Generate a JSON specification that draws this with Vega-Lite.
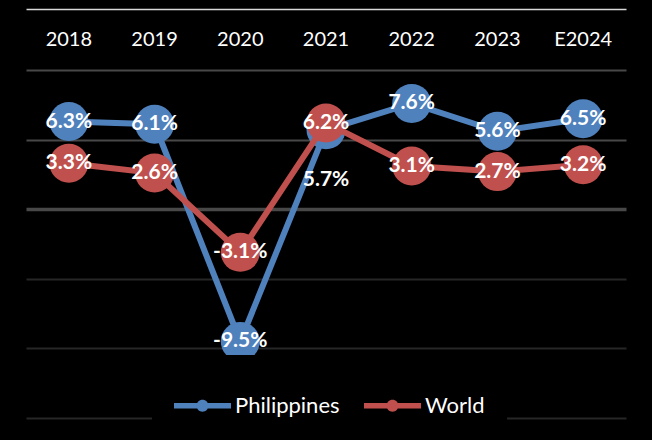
{
  "$schema": "https://vega.github.io/schema/vega-lite/v6.json",
  "width": 600,
  "height": 348,
  "autosize": {"type": "none"},
  "padding": {"left": 26, "top": 70, "right": 26, "bottom": 22},
  "background": "#000000",
  "config": {"view": {"stroke": null}, "font": "Lato"},
  "data": {
    "values": [
      {"year": "2018", "series": "Philippines", "value": 6.3},
      {"year": "2019", "series": "Philippines", "value": 6.1},
      {"year": "2020", "series": "Philippines", "value": -9.5},
      {"year": "2021", "series": "Philippines", "value": 5.7},
      {"year": "2022", "series": "Philippines", "value": 7.6},
      {"year": "2023", "series": "Philippines", "value": 5.6},
      {"year": "E2024", "series": "Philippines", "value": 6.5},
      {"year": "2018", "series": "World", "value": 3.3},
      {"year": "2019", "series": "World", "value": 2.6},
      {"year": "2020", "series": "World", "value": -3.1},
      {"year": "2021", "series": "World", "value": 6.2},
      {"year": "2022", "series": "World", "value": 3.1},
      {"year": "2023", "series": "World", "value": 2.7},
      {"year": "E2024", "series": "World", "value": 3.2}
    ]
  },
  "transform": [
    {"calculate": "datum.value + '%'", "as": "label"}
  ],
  "encoding": {
    "x": {
      "field": "year", "type": "ordinal", "sort": null,
      "scale": {"type": "band", "paddingInner": 0, "paddingOuter": 0},
      "axis": {
        "orient": "top", "title": null, "offset": 61,
        "domain": true, "domainColor": "#d9d9d9", "domainWidth": 1.5,
        "ticks": false, "labelPadding": -36, "labelBaseline": "alphabetic",
        "labelAngle": 0, "labelColor": "#ffffff", "labelFontSize": 20, "labelFont": "Lato"
      }
    },
    "y": {
      "field": "value", "type": "quantitative",
      "scale": {"domain": [-15, 10], "nice": false, "zero": false},
      "axis": {
        "title": null, "labels": false, "ticks": false, "domain": false,
        "values": [-15, -10, -5, 0, 5, 10],
        "grid": true,
        "gridColor": {"condition": {"test": "datum.value >= 0", "value": "#484848"}, "value": "#262626"},
        "gridWidth": {"condition": {"test": "datum.value === 0", "value": 3.5}, "value": 2}
      }
    },
    "color": {
      "field": "series", "type": "nominal",
      "scale": {"domain": ["Philippines", "World"], "range": ["#4F81BD", "#C0504D"]},
      "legend": {
        "title": null, "orient": "none", "direction": "horizontal",
        "legendX": 126, "legendY": 285,
        "fillColor": "#000000", "padding": 22,
        "symbolType": "M-1,-0.1L1,-0.1L1,0.1L-1,0.1Z M0.21,0A0.21,0.21,0,1,1,-0.21,0A0.21,0.21,0,1,1,0.21,0Z",
        "symbolSize": 3249, "symbolStrokeWidth": 0,
        "labelColor": "#ffffff", "labelFontSize": 22, "labelFont": "Lato", "labelOffset": 4,
        "columnPadding": 24,
        "encode": {"symbols": {"update": {"fill": {"scale": "color", "field": "value"}, "strokeWidth": {"value": 0}, "opacity": {"value": 1}}}}
      }
    }
  },
  "layer": [
    {
      "transform": [{"filter": "datum.series === 'Philippines'"}],
      "mark": {"type": "line", "strokeWidth": 6}
    },
    {
      "transform": [{"filter": "datum.series === 'Philippines'"}],
      "mark": {"type": "point", "filled": true, "size": 1520, "opacity": 1}
    },
    {
      "transform": [{"filter": "datum.series === 'World'"}],
      "mark": {"type": "line", "strokeWidth": 6}
    },
    {
      "transform": [{"filter": "datum.series === 'World'"}],
      "mark": {"type": "point", "filled": true, "size": 1520, "opacity": 1}
    },
    {
      "transform": [{"filter": "!(datum.series === 'Philippines' && datum.year === '2021')"}],
      "mark": {"type": "text", "fontWeight": "bold", "fontSize": 21, "color": "#ffffff", "baseline": "middle", "align": "center"},
      "encoding": {"text": {"field": "label"}, "color": {"value": "#ffffff"}}
    },
    {
      "transform": [{"filter": "datum.series === 'Philippines' && datum.year === '2021'"}],
      "mark": {"type": "text", "fontWeight": "bold", "fontSize": 21, "color": "#ffffff", "baseline": "middle", "align": "center", "dy": 50},
      "encoding": {"text": {"field": "label"}, "color": {"value": "#ffffff"}}
    }
  ]
}
